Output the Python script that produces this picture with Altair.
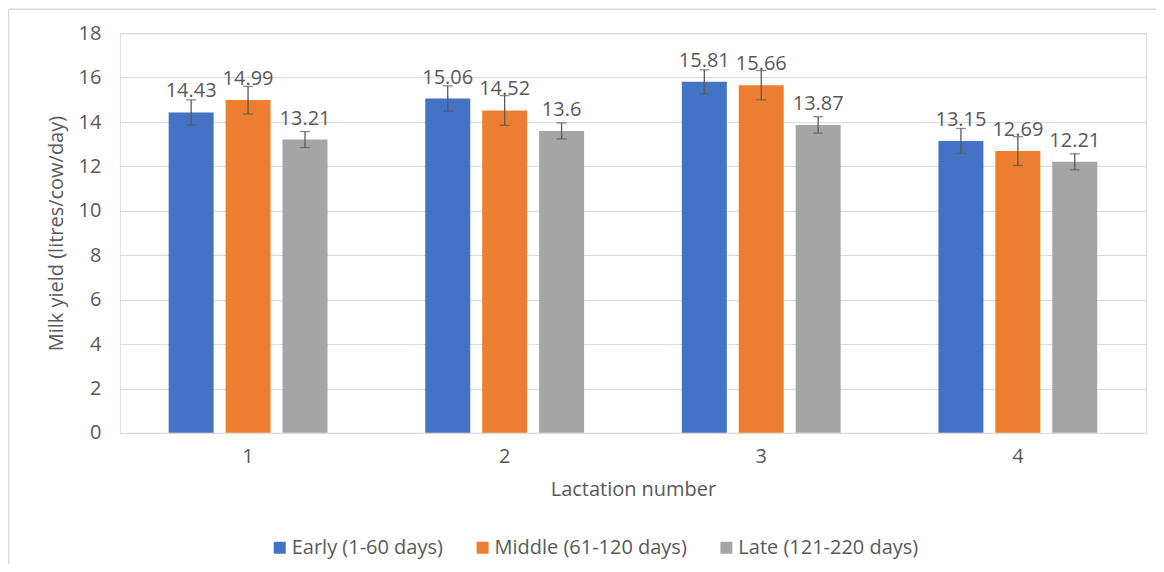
import altair as alt
import pandas as pd

lactation = ["1", "2", "3", "4"]
stages = ["Early (1-60 days)", "Middle (61-120 days)", "Late (121-220 days)"]
colors = ["#4472C4", "#ED7D31", "#A5A5A5"]

early = [14.43, 15.06, 15.81, 13.15]
middle = [14.99, 14.52, 15.66, 12.69]
late = [13.21, 13.6, 13.87, 12.21]
early_err = [0.57, 0.57, 0.54, 0.56]
middle_err = [0.62, 0.67, 0.66, 0.65]
late_err = [0.36, 0.36, 0.37, 0.36]
y_ticks = [0, 2, 4, 6, 8, 10, 12, 14, 16, 18]

rows = []
for stage, vals, errs in zip(stages, [early, middle, late], [early_err, middle_err, late_err]):
    for lac, v, e in zip(lactation, vals, errs):
        rows.append({"lact": lac, "stage": stage, "value": v,
                     "lo": v - e, "hi": v + e, "label": f"{v:g}"})
df = pd.DataFrame(rows)

FONT = "Open Sans"
TXT = "#595959"
FS = 20

x_enc = alt.X("lact:N", sort=lactation,
              scale=alt.Scale(paddingInner=0.381, paddingOuter=0.19),
              axis=alt.Axis(title="Lactation number", labelAngle=0, domain=False, ticks=False,
                            labelPadding=14, labelFontSize=FS, labelColor=TXT,
                            titleFontSize=FS, titleColor=TXT, titleFontWeight="normal",
                            titleY=57, titleBaseline="middle",
                            labelFont=FONT, titleFont=FONT))
xoff = alt.XOffset("stage:N", sort=stages, scale=alt.Scale(paddingInner=0.21, paddingOuter=0))
y_scale = alt.Scale(domain=[0, 18])
color = alt.Color("stage:N", sort=stages, scale=alt.Scale(domain=stages, range=colors),
                  legend=alt.Legend(title=None, orient="none", legendX=150, legendY=505,
                                    direction="horizontal", symbolType="square", symbolSize=144,
                                    symbolStrokeWidth=0, labelFontSize=FS, labelColor=TXT,
                                    labelFont=FONT, columnPadding=29, labelOffset=2,
                                    labelLimit=400))

base = alt.Chart(df)

bars = base.mark_bar().encode(
    x=x_enc, xOffset=xoff,
    y=alt.Y("value:Q", scale=y_scale,
            axis=alt.Axis(title="Milk yield (litres/cow/day)", values=y_ticks, domain=False,
                          ticks=False, gridColor="#D9D9D9", labelPadding=19, labelFontSize=FS,
                          labelColor=TXT, titleFontSize=FS, titleColor=TXT,
                          titleFontWeight="normal", titlePadding=12,
                          labelFont=FONT, titleFont=FONT)),
    color=color,
)

err = base.mark_rule(color="#595959", strokeWidth=1.3).encode(
    x=x_enc, xOffset=xoff, y=alt.Y("lo:Q", scale=y_scale), y2="hi:Q")
cap_lo = base.mark_tick(color="#595959", size=10, thickness=1.3).encode(
    x=x_enc, xOffset=xoff, y=alt.Y("lo:Q", scale=y_scale))
cap_hi = base.mark_tick(color="#595959", size=10, thickness=1.3).encode(
    x=x_enc, xOffset=xoff, y=alt.Y("hi:Q", scale=y_scale))

labels = base.mark_text(baseline="alphabetic", dy=-15, fontSize=FS, color=TXT, font=FONT).encode(
    x=x_enc, xOffset=xoff, y=alt.Y("value:Q", scale=y_scale), text="label:N")

border_top = alt.Chart(pd.DataFrame({"k": [0]})).mark_rule(color="#D9D9D9", strokeWidth=1.5).encode(
    x=alt.value(-111.5), x2=alt.value(1044), y=alt.value(-24))
border_left = alt.Chart(pd.DataFrame({"k": [0]})).mark_rule(color="#D9D9D9", strokeWidth=1.5).encode(
    x=alt.value(-111.5), y=alt.value(-24), y2=alt.value(531))

chart = alt.layer(bars, err, cap_lo, cap_hi, labels, border_top, border_left).properties(
    width=1027, height=400,
    autosize=alt.AutoSizeParams(type="none"),
    padding={"left": 112, "top": 25, "right": 10, "bottom": 131},
).configure_view(stroke=None).configure(background="white")

chart.save("out.html", embed_options={"renderer": "svg", "actions": False})
